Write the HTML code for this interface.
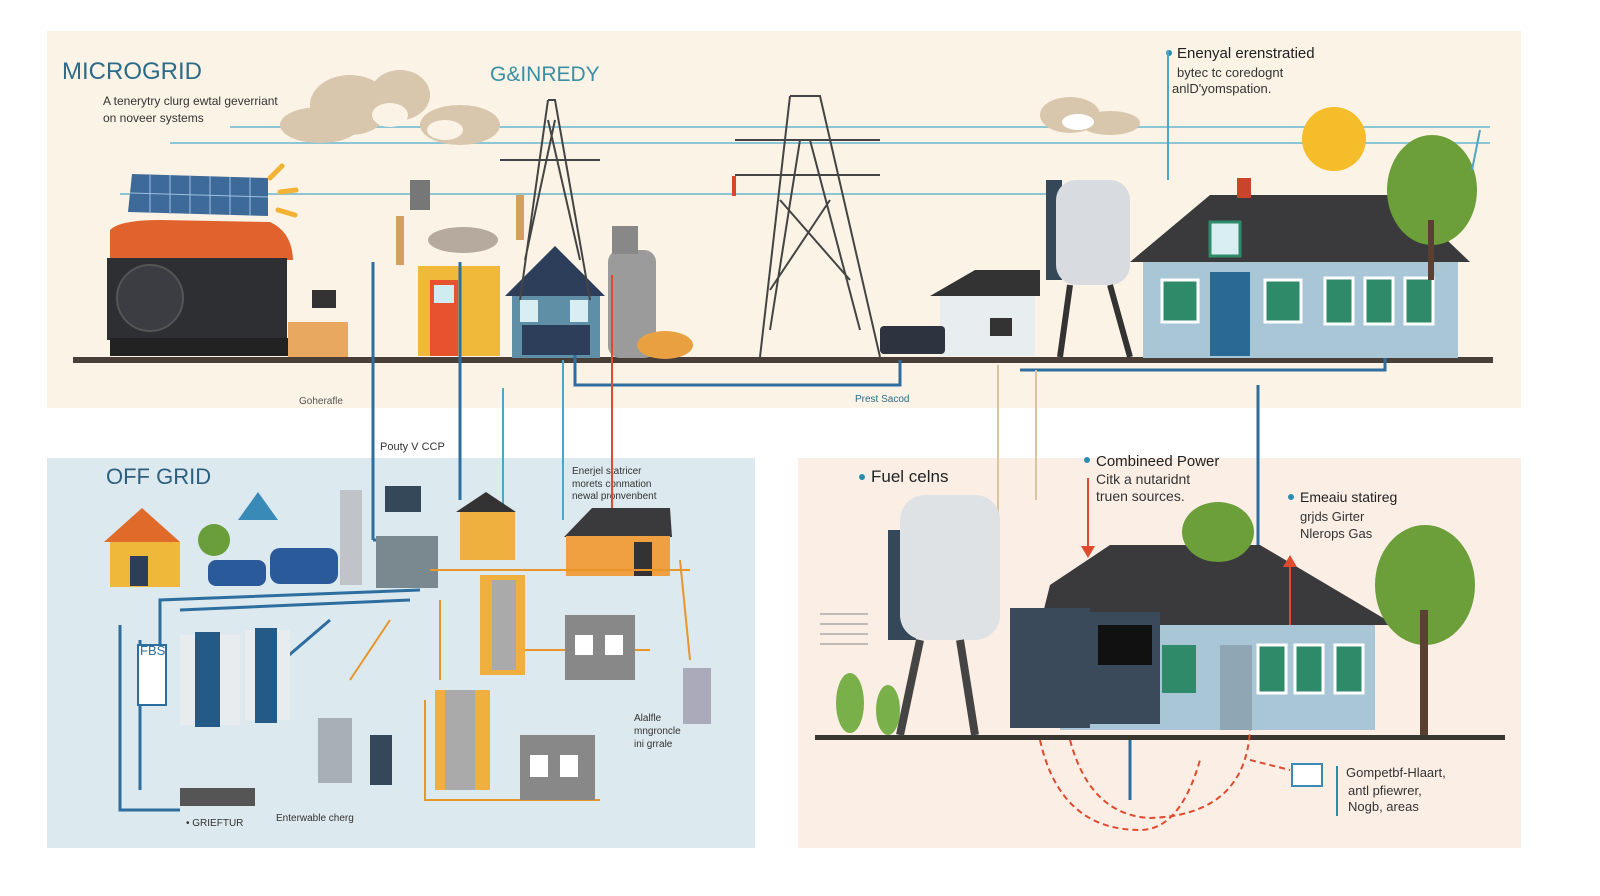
<!DOCTYPE html>
<html><head><meta charset="utf-8"><style>
html,body{margin:0;padding:0;background:#fff;}
svg{display:block;font-family:"Liberation Sans",sans-serif;}
</style></head><body>
<svg width="1600" height="896" viewBox="0 0 1600 896" xmlns="http://www.w3.org/2000/svg">
<rect width="1600" height="896" fill="#fff"/>
<!-- panels -->
<rect x="47" y="31" width="1474" height="377" fill="#fbf3e5"/>
<rect x="47" y="458" width="708" height="390" fill="#dce9ee"/>
<rect x="798" y="458" width="723" height="390" fill="#fbeee5"/>

<!-- titles -->
<text x="62" y="79" font-size="24" fill="#2d6b8a">MICROGRID</text>
<text x="103" y="105" font-size="12" fill="#333">A tenerytry clurg ewtal geverriant</text>
<text x="103" y="122" font-size="12" fill="#333">on noveer systems</text>
<text x="490" y="81" font-size="21" fill="#3a8fa6">G&amp;INREDY</text>
<circle cx="1169" cy="53" r="3" fill="#2a8ab0"/>
<text x="1177" y="58" font-size="15" fill="#222">Enenyal erenstratied</text>
<text x="1177" y="77" font-size="13" fill="#333">bytec tc coredognt</text>
<text x="1172" y="93" font-size="13" fill="#333">anlD'yomspation.</text>
<text x="106" y="484" font-size="22" fill="#2d5f7e">OFF GRID</text>
<circle cx="862" cy="477" r="3" fill="#2a8ab0"/>
<text x="871" y="482" font-size="17" fill="#222">Fuel celns</text>
<circle cx="1087" cy="460" r="3" fill="#2a8ab0"/>
<text x="1096" y="466" font-size="15" fill="#222">Combineed Power</text>
<text x="1096" y="484" font-size="14" fill="#333">Citk a nutaridnt</text>
<text x="1096" y="501" font-size="14" fill="#333">truen sources.</text>
<circle cx="1291" cy="497" r="3" fill="#2a8ab0"/>
<text x="1300" y="502" font-size="14" fill="#222">Emeaiu statireg</text>
<text x="1300" y="521" font-size="13" fill="#333">grjds Girter</text>
<text x="1300" y="538" font-size="13" fill="#333">Nlerops Gas</text>
<text x="1346" y="777" font-size="13" fill="#333">Gompetbf-Hlaart,</text>
<text x="1348" y="795" font-size="13" fill="#333">antl pfiewrer,</text>
<text x="1348" y="811" font-size="13" fill="#333">Nogb, areas</text>
<rect x="1336" y="766" width="2" height="50" fill="#2a8ab0"/>
<text x="299" y="404" font-size="10" fill="#555">Goherafle</text>
<text x="855" y="402" font-size="10" fill="#2a6b8a">Prest Sacod</text>
<text x="380" y="450" font-size="11" fill="#333">Pouty V CCP</text>
<text x="572" y="474" font-size="10" fill="#333">Enerjel statricer</text>
<text x="572" y="487" font-size="10" fill="#333">morets   conmation</text>
<text x="572" y="499" font-size="10" fill="#333">              newal pronvenbent</text>
<text x="634" y="721" font-size="10" fill="#333">Alalfle</text>
<text x="634" y="734" font-size="10" fill="#333">mngroncle</text>
<text x="634" y="747" font-size="10" fill="#333">ini grrale</text>
<text x="186" y="826" font-size="10" fill="#333">• GRIEFTUR</text>
<text x="276" y="821" font-size="10" fill="#333">Enterwable cherg</text>

<!-- wires top -->
<g stroke="#8cc5d6" stroke-width="2" fill="none">
<line x1="230" y1="127" x2="1490" y2="127"/>
<line x1="170" y1="143" x2="1490" y2="143"/>
<line x1="120" y1="194" x2="1100" y2="194"/>
</g>
<!-- clouds -->
<g fill="#d8c6ad"><ellipse cx="350" cy="105" rx="40" ry="30"/><ellipse cx="400" cy="95" rx="30" ry="25"/><ellipse cx="320" cy="125" rx="40" ry="18"/><ellipse cx="460" cy="125" rx="40" ry="20"/></g>
<g fill="#fbf3e5"><ellipse cx="390" cy="115" rx="18" ry="12"/><ellipse cx="445" cy="130" rx="18" ry="10"/></g>
<g fill="#d8c6ad"><ellipse cx="1070" cy="115" rx="30" ry="18"/><ellipse cx="1110" cy="123" rx="30" ry="12"/></g>
<ellipse cx="1078" cy="122" rx="16" ry="8" fill="#fff"/>
<circle cx="1334" cy="139" r="32" fill="#f5bd2a"/>

<!-- ground top -->
<rect x="73" y="357" width="1420" height="6" fill="#4a3f38"/>

<!-- solar + generator -->
<polygon points="132,174 268,178 268,216 128,212" fill="#3e6a9a"/>
<g stroke="#9dc0e0" stroke-width="1"><line x1="150" y1="175" x2="150" y2="213"/><line x1="170" y1="175" x2="170" y2="214"/><line x1="190" y1="176" x2="190" y2="214"/><line x1="210" y1="176" x2="210" y2="215"/><line x1="230" y1="177" x2="230" y2="215"/><line x1="250" y1="177" x2="250" y2="216"/><line x1="130" y1="193" x2="268" y2="197"/></g>
<path d="M110 230 Q120 220 160 220 L270 222 Q292 232 293 260 L110 262 Z" fill="#e0622d"/>
<rect x="107" y="258" width="180" height="82" fill="#2e2f33"/>
<circle cx="150" cy="298" r="33" fill="#3c3d42" stroke="#555" stroke-width="2"/>
<rect x="110" y="338" width="182" height="18" fill="#222"/>
<g stroke="#f2b233" stroke-width="5" stroke-linecap="round"><line x1="270" y1="178" x2="282" y2="166"/><line x1="280" y1="192" x2="296" y2="190"/><line x1="278" y1="210" x2="295" y2="215"/></g>
<rect x="288" y="322" width="60" height="35" fill="#e8a860"/>
<rect x="312" y="290" width="24" height="18" fill="#333"/>

<!-- substation -->
<rect x="418" y="266" width="82" height="90" fill="#f0b93a"/>
<rect x="430" y="280" width="28" height="76" fill="#e8532f"/>
<rect x="434" y="285" width="20" height="18" fill="#d0ecf0"/>
<ellipse cx="463" cy="240" rx="35" ry="13" fill="#b5aa9d"/>
<rect x="410" y="180" width="20" height="30" fill="#777"/>
<path d="M400 265 L400 216 M520 240 L520 195" stroke="#d4a060" stroke-width="8" fill="none"/>
<!-- house small -->
<polygon points="505,296 555,246 605,296" fill="#2c3e5a"/>
<rect x="512" y="296" width="88" height="62" fill="#5f8fa6"/>
<rect x="520" y="300" width="18" height="22" fill="#d8eef2"/><rect x="570" y="300" width="18" height="22" fill="#d8eef2"/>
<rect x="522" y="325" width="68" height="30" fill="#2c3e5a"/>
<rect x="608" y="250" width="48" height="108" rx="12" fill="#9b9b9b"/>
<rect x="612" y="226" width="26" height="28" fill="#888"/>
<ellipse cx="665" cy="345" rx="28" ry="14" fill="#e8a040"/>

<!-- towers -->
<g stroke="#444" stroke-width="2" fill="none">
<path d="M548 100 L555 100 L590 300 M548 100 L520 300 M548 120 L580 260 M555 120 L525 260 M500 160 L600 160"/>
<path d="M790 96 L820 96 L880 357 M790 96 L760 357 M735 140 L880 140 M735 175 L880 175 M800 140 L770 330 M810 140 L860 330 M780 200 L850 280 M830 200 L770 290"/>
</g>
<rect x="732" y="176" width="4" height="20" fill="#d8442e"/>

<!-- right top buildings -->
<polygon points="930,296 975,270 1040,270 1040,296" fill="#333"/>
<rect x="940" y="296" width="95" height="60" fill="#e8eef0"/>
<rect x="990" y="318" width="22" height="18" fill="#333"/>
<rect x="880" y="326" width="65" height="28" rx="4" fill="#2e3340"/>
<rect x="1046" y="180" width="16" height="100" fill="#34485a"/>
<rect x="1056" y="180" width="74" height="105" rx="20" fill="#d8dbdf"/>
<path d="M1070 285 L1060 357 M1110 285 L1130 357" stroke="#333" stroke-width="6"/>
<!-- big house -->
<polygon points="1130,262 1210,195 1400,195 1470,262" fill="#3a3a3c"/>
<rect x="1143" y="262" width="315" height="96" fill="#a9c6d6"/>
<rect x="1210" y="272" width="40" height="84" fill="#2a6a92"/>
<rect x="1162" y="280" width="36" height="42" fill="#2f8a6a" stroke="#fff" stroke-width="3"/>
<rect x="1265" y="280" width="36" height="42" fill="#2f8a6a" stroke="#fff" stroke-width="3"/>
<rect x="1325" y="278" width="28" height="46" fill="#2f8a6a" stroke="#fff" stroke-width="3"/>
<rect x="1365" y="278" width="28" height="46" fill="#2f8a6a" stroke="#fff" stroke-width="3"/>
<rect x="1405" y="278" width="28" height="46" fill="#2f8a6a" stroke="#fff" stroke-width="3"/>
<rect x="1237" y="178" width="14" height="20" fill="#c8452c"/>
<rect x="1210" y="222" width="30" height="34" fill="#d8eef2" stroke="#2f8a6a" stroke-width="3"/>
<ellipse cx="1432" cy="190" rx="45" ry="55" fill="#6c9e3a"/>
<rect x="1428" y="220" width="6" height="60" fill="#5a4030"/>

<!-- pipes top/middle -->
<g stroke="#2e6e9e" stroke-width="3" fill="none">
<path d="M373 262 L373 540 M460 262 L460 500 M373 540 L420 540"/>
<path d="M575 355 L575 385 L900 385 L900 360"/>
<path d="M1020 370 L1385 370 L1385 358"/>
<path d="M1258 385 L1258 555"/>
</g>
<g stroke="#4aa7c6" stroke-width="2" fill="none">
<path d="M503 388 L503 510 M563 360 L563 520 M1168 50 L1168 180 M1472 170 L1480 130"/>
</g>
<path d="M612 275 L612 510" stroke="#e04a2e" stroke-width="2"/>
<polygon points="605,508 619,508 612,522" fill="#e04a2e"/>
<path d="M998 365 L998 520 M1036 370 L1036 500" stroke="#d8c5a0" stroke-width="2"/>

<!-- OFF GRID panel -->
<polygon points="104,542 142,508 180,542" fill="#e06a2a"/>
<rect x="110" y="542" width="70" height="45" fill="#f0b83a"/>
<rect x="130" y="556" width="18" height="30" fill="#2c3e5a"/>
<circle cx="214" cy="540" r="16" fill="#6a9e3a"/>
<polygon points="258,492 238,520 278,520" fill="#3a8ab8"/>
<rect x="208" y="560" width="58" height="26" rx="8" fill="#2a5a9a"/>
<rect x="270" y="548" width="68" height="36" rx="10" fill="#2a5a9a"/>
<rect x="340" y="490" width="22" height="95" fill="#c0c4c8"/>
<rect x="376" y="536" width="62" height="52" fill="#7a8890"/>
<rect x="385" y="486" width="36" height="26" fill="#34485a"/>
<polygon points="456,512 486,492 516,512" fill="#333"/>
<rect x="460" y="512" width="55" height="48" fill="#f0b040"/>
<polygon points="564,537 592,508 670,508 672,537" fill="#3a3a3c"/>
<rect x="566" y="536" width="104" height="40" fill="#f0a040"/>
<rect x="634" y="542" width="18" height="34" fill="#333"/>
<g stroke="#2e6e9e" stroke-width="3" fill="none">
<path d="M120 625 L120 810 L180 810 M140 640 L140 790 M420 590 L160 600 L160 660 M410 600 L180 610 M330 620 L260 680"/>
</g>
<g stroke="#e8952a" stroke-width="2" fill="none">
<path d="M430 570 L690 570 M440 600 L440 680 M425 700 L425 800 L600 800 M350 680 L390 620 M520 650 L650 650 M680 560 L690 660"/>
</g>
<rect x="180" y="635" width="60" height="90" fill="#e8ecef"/>
<rect x="195" y="632" width="25" height="95" fill="#235a86"/>
<rect x="245" y="630" width="45" height="90" fill="#e8ecef"/>
<rect x="255" y="628" width="22" height="95" fill="#235a86"/>
<rect x="138" y="645" width="28" height="60" fill="#fff" stroke="#2e6e9e" stroke-width="2"/>
<text x="140" y="655" font-size="13" fill="#2e6e9e">FBS</text>
<rect x="480" y="575" width="45" height="100" fill="#f0b040"/>
<rect x="492" y="580" width="24" height="90" fill="#aaa"/>
<rect x="435" y="690" width="55" height="100" fill="#f0b040"/>
<rect x="445" y="690" width="30" height="100" fill="#aaa"/>
<rect x="565" y="615" width="70" height="65" fill="#888"/>
<rect x="575" y="635" width="18" height="20" fill="#fff"/><rect x="605" y="635" width="18" height="20" fill="#fff"/>
<rect x="520" y="735" width="75" height="65" fill="#888"/>
<rect x="530" y="755" width="18" height="22" fill="#fff"/><rect x="560" y="755" width="18" height="22" fill="#fff"/>
<rect x="318" y="718" width="34" height="65" fill="#a7b0b5"/>
<rect x="370" y="735" width="22" height="50" fill="#34485a"/>
<rect x="683" y="668" width="28" height="56" fill="#aab"/>
<rect x="180" y="788" width="75" height="18" fill="#555"/>

<!-- FUEL panel -->
<rect x="815" y="735" width="690" height="5" fill="#3a3632"/>
<rect x="888" y="530" width="28" height="110" fill="#34485a"/>
<rect x="900" y="495" width="100" height="145" rx="25" fill="#dfe2e5"/>
<path d="M920 640 L900 735 M960 640 L975 735" stroke="#444" stroke-width="8"/>
<path d="M1050 585 L1110 545 L1260 545 L1395 625 L1040 625 Z" fill="#3a3a3c"/>
<rect x="1060" y="625" width="315" height="105" fill="#a9c6d6"/>
<rect x="1220" y="645" width="32" height="85" fill="#8fa6b4"/>
<rect x="1258" y="645" width="28" height="48" fill="#2f8a6a" stroke="#fff" stroke-width="3"/>
<rect x="1295" y="645" width="28" height="48" fill="#2f8a6a" stroke="#fff" stroke-width="3"/>
<rect x="1335" y="645" width="28" height="48" fill="#2f8a6a" stroke="#fff" stroke-width="3"/>
<rect x="1010" y="608" width="80" height="120" fill="#3a4a5a"/>
<rect x="1090" y="612" width="70" height="112" fill="#3a4a5a"/>
<rect x="1098" y="625" width="54" height="40" fill="#111"/>
<rect x="1162" y="645" width="34" height="48" fill="#2f8a6a"/>
<ellipse cx="1218" cy="532" rx="36" ry="30" fill="#6c9e3a"/>
<ellipse cx="1425" cy="585" rx="50" ry="60" fill="#6c9e3a"/>
<rect x="1420" y="610" width="8" height="125" fill="#5a4030"/>
<ellipse cx="850" cy="703" rx="14" ry="30" fill="#7ab04a"/>
<ellipse cx="888" cy="710" rx="12" ry="25" fill="#7ab04a"/>
<g stroke="#aaa" stroke-width="1.5"><line x1="820" y1="614" x2="868" y2="614"/><line x1="820" y1="624" x2="868" y2="624"/><line x1="820" y1="634" x2="868" y2="634"/><line x1="820" y1="644" x2="868" y2="644"/></g>
<path d="M1088 478 L1088 548" stroke="#e04a2e" stroke-width="2"/><polygon points="1081,546 1095,546 1088,558" fill="#e04a2e"/>
<path d="M1290 565 L1290 625" stroke="#e04a2e" stroke-width="2"/><polygon points="1283,567 1297,567 1290,555" fill="#e04a2e"/>
<g stroke="#e04a2e" stroke-width="2" fill="none" stroke-dasharray="6 4">
<path d="M1040 740 Q1060 830 1140 830 Q1180 830 1200 760"/>
<path d="M1070 740 Q1090 815 1150 818 Q1245 815 1250 730"/>
<path d="M1250 760 L1290 770"/>
</g>
<rect x="1292" y="764" width="30" height="22" fill="#fff" stroke="#3a8ab8" stroke-width="2"/>
<path d="M1130 740 L1130 800" stroke="#2e6e9e" stroke-width="3"/>
</svg>
</body></html>
